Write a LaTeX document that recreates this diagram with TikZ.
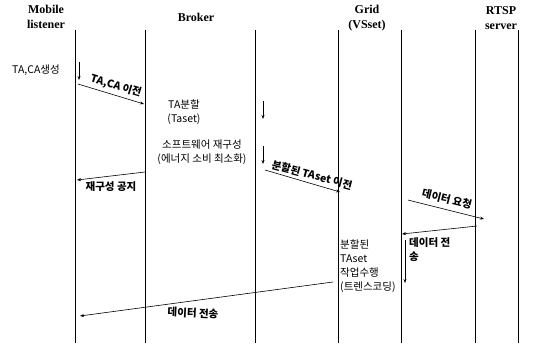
\documentclass[tikz,border=0pt]{standalone}
\usepackage{fontspec}
\setmainfont{Liberation Serif}
\newfontfamily\kr{Noto Sans CJK KR}
\usetikzlibrary{arrows.meta}
\begin{document}
\begin{tikzpicture}[x=1pt,y=-1pt,
 life/.style={line width=0.6pt},
 msg/.style={line width=0.6pt,-{Stealth[length=4pt,width=3pt]}},
 hdr/.style={font=\bfseries\fontsize{12}{15.5}\selectfont, align=center, inner sep=0},
 lbl/.style={font=\kr\fontsize{10.5}{14.5}\selectfont, inner sep=0},
 albl/.style={font=\kr\bfseries\fontsize{10.5}{14}\selectfont, inner sep=0},
]
\useasboundingbox[fill=white] (0,0) rectangle (533,346);
% lifelines
\foreach \n/\x in {ml/75, bl/145, br/255, gl/338, gr/401, rl/475, rr/518} {
  \coordinate (\n t) at (\x,30); \coordinate (\n b) at (\x,343);
  \draw[life] (\n t) -- (\n b);
}
% headers
\node[hdr] (hml) at (46,17) {Mobile\\listener};
\node[hdr] (hbr) at (196,17) {Broker};
\node[hdr] (hgr) at (367,18) {Grid\\(VSset)};
\node[hdr] (hrt) at (501,18) {RTSP\\server};
% Mobile: TA,CA create
\node[lbl] (tacg) at (36,70) {TA,CA생성};
\coordinate (d1a) at (79,62); \coordinate (d1b) at (79,80);
\draw[msg] (d1a) -- (d1b);
% TA,CA transfer
\coordinate (m1a) at (78,84); \coordinate (m1b) at (144,104);
\draw[msg] (m1a) -- (m1b);
\node[albl,rotate=-17] (l1) at (116,86) {TA,CA 이전};
% Broker texts
\node[lbl,align=center] (tadiv) at (184,112) {TA분할\\(Taset)};
\node[lbl,align=center] (swre) at (202,152) {소프트웨어 재구성\\(에너지 소비 최소화)};
\coordinate (d2a) at (263,101); \coordinate (d2b) at (263,119);
\draw[msg] (d2a) -- (d2b);
\coordinate (d3a) at (263,146); \coordinate (d3b) at (263,164);
\draw[msg] (d3a) -- (d3b);
% reconfiguration notice
\coordinate (m2a) at (145,172); \coordinate (m2b) at (77,180);
\draw[msg] (m2a) -- (m2b);
\node[albl] (l2) at (111,187) {재구성 공지};
% TAset transfer
\coordinate (m3a) at (265,170); \coordinate (m3b) at (340,192);
\draw[msg] (m3a) -- (m3b);
\node[albl,rotate=-15] (l3) at (312,175) {분할된 TAset 이전};
% data request
\coordinate (m4a) at (408,200); \coordinate (m4b) at (484,219);
\draw[msg] (m4a) -- (m4b);
\node[albl,rotate=-14] (l4) at (447,199) {데이터 요청};
% data transmission from RTSP
\coordinate (m5a) at (477,226); \coordinate (m5b) at (402,234);
\draw[msg] (m5a) -- (m5b);
\node[albl,align=left,anchor=west] (l5) at (409,250) {데이터 전\\송};
\coordinate (d4a) at (405,240); \coordinate (d4b) at (405,283);
\draw[msg] (d4a) -- (d4b);
% Grid task
\node[lbl,align=left,anchor=west,font=\kr\fontsize{10.5}{13.8}\selectfont] (task) at (340,266) {분할된\\TAset\\작업수행\\(트렌스코딩)};
% data to mobile
\coordinate (m6a) at (333,282); \coordinate (m6b) at (80,316);
\draw[msg] (m6a) -- (m6b);
\node[albl,rotate=-3] (l6) at (193,313) {데이터 전송};
\end{tikzpicture}
\end{document}
